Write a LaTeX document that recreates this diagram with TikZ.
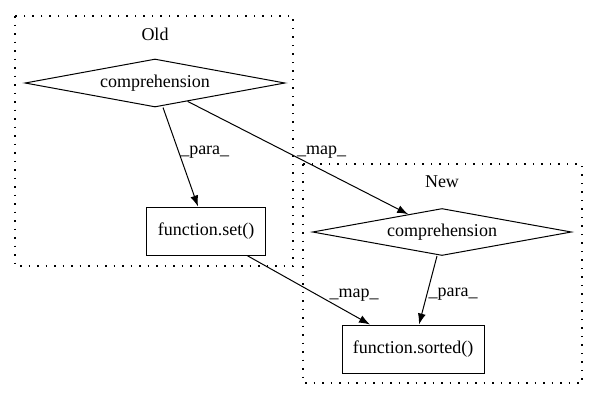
\documentclass[tikz,border=0pt]{standalone}
\usepackage{fontspec}
\setmainfont{Liberation Serif}
\usepackage{tikz}
\usetikzlibrary{arrows.meta,shapes.geometric,calc}

\begin{document}
\begin{tikzpicture}[x=1pt, y=-1pt, line width=1pt,
  font=\fontsize{18}{21}\selectfont,
  >={Latex[length=11pt,width=8pt]},
  cluster/.style={dash pattern=on 1.5pt off 7pt, line width=1.3pt},
  compnode/.style={diamond, draw, inner sep=0pt, aspect=5.4, minimum width=260pt, minimum height=48pt},
  funcnode/.style={rectangle, draw, inner sep=0pt, minimum height=48pt},
  edgelabel/.style={inner sep=1pt}]
\useasboundingbox (0,0) rectangle (597,400);
%%%%% Clusters %%%%%
\draw[cluster] (15,16) rectangle (293,266);
\node (oldlabel) at (155,34) {Old};
\draw[cluster] (303,164) rectangle (582,383);
\node (newlabel) at (442,182) {New};
%%%%% Nodes %%%%%
\node[compnode] (oldcomp) at (155,83) {comprehension};
\node[funcnode, minimum width=119pt] (oldset) at (206,231) {function.set()};
\node[compnode, minimum width=259pt, minimum height=47pt] (newcomp) at (442,232) {comprehension};
\node[funcnode, minimum width=142pt] (newsorted) at (413,349) {function.sorted()};
%%%%% Edges %%%%%
\draw[->] ([xshift=8pt]oldcomp.south) -- ([xshift=-8pt]oldset.north)
  node[edgelabel, pos=0.45, anchor=west] {\_para\_};
\draw[->] ($(oldcomp.south)!0.25!(oldcomp.east)$) -- ($(newcomp.north)!0.26!(newcomp.west)$)
  node[edgelabel, pos=0.49, anchor=south west, yshift=-3pt] {\_map\_};
\draw[->] ([xshift=41pt]oldset.south) -- ([xshift=-43pt]newsorted.north)
  node[edgelabel, pos=0.66, anchor=south west, yshift=-2pt] {\_map\_};
\draw[->] ([xshift=-5pt]newcomp.south) -- ([xshift=6pt]newsorted.north)
  node[edgelabel, pos=0.55, anchor=west] {\_para\_};
\end{tikzpicture}
\end{document}
